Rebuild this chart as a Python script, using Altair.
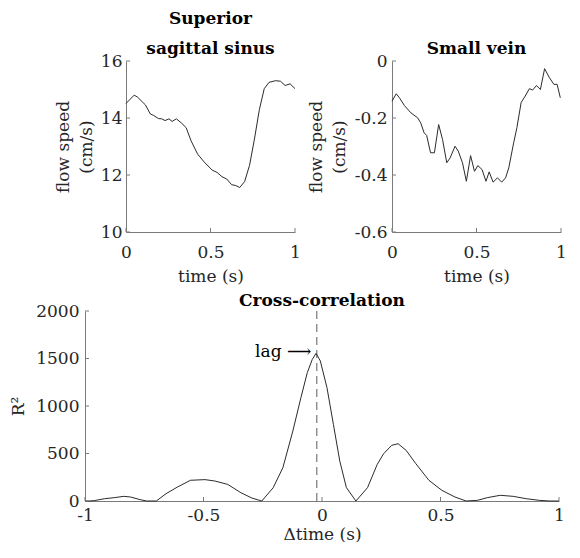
import altair as alt
import pandas as pd

# ---- data ----
sss_t = [0.0, 0.048, 0.067, 0.096, 0.115, 0.144, 0.163, 0.192, 0.212, 0.231, 0.254, 0.273,
         0.298, 0.327, 0.356, 0.385, 0.423, 0.462, 0.51, 0.539, 0.568, 0.596, 0.625, 0.65,
         0.673, 0.702, 0.731, 0.76, 0.789, 0.818, 0.846, 0.885, 0.914, 0.942, 0.971, 1.0]
sss_v = [14.51, 14.80, 14.74, 14.57, 14.46, 14.14, 14.09, 13.98, 13.97, 13.91, 13.97, 13.88,
         13.97, 13.83, 13.66, 13.20, 12.74, 12.46, 12.17, 12.09, 11.94, 11.86, 11.66, 11.63,
         11.56, 11.77, 12.34, 13.26, 14.29, 15.03, 15.25, 15.31, 15.29, 15.14, 15.20, 15.03]

vein_t = [0.0, 0.025, 0.044, 0.073, 0.112, 0.151, 0.17, 0.19, 0.205, 0.228, 0.251, 0.276,
          0.299, 0.324, 0.344, 0.373, 0.392, 0.417, 0.44, 0.465, 0.488, 0.508, 0.533, 0.556,
          0.575, 0.598, 0.624, 0.649, 0.672, 0.691, 0.72, 0.739, 0.764, 0.788, 0.813, 0.832,
          0.855, 0.878, 0.903, 0.932, 0.958, 0.977, 0.996]
vein_v = [-0.141, -0.115, -0.129, -0.156, -0.182, -0.199, -0.217, -0.252, -0.261, -0.322,
          -0.322, -0.223, -0.275, -0.357, -0.340, -0.299, -0.316, -0.357, -0.422, -0.332,
          -0.387, -0.367, -0.381, -0.422, -0.389, -0.425, -0.410, -0.425, -0.410, -0.375,
          -0.287, -0.234, -0.146, -0.123, -0.097, -0.102, -0.086, -0.100, -0.027, -0.059,
          -0.082, -0.082, -0.129]

xc_t = [-1.0, -0.979, -0.959, -0.918, -0.877, -0.836, -0.808, -0.767, -0.740, -0.699,
        -0.658, -0.610, -0.555, -0.494, -0.453, -0.398, -0.342, -0.295, -0.254, -0.206,
        -0.165, -0.123, -0.089, -0.062, -0.041, -0.025, -0.007, 0.021, 0.048, 0.075,
        0.103, 0.143, 0.192, 0.233, 0.260, 0.294, 0.321, 0.355, 0.396, 0.451, 0.506,
        0.561, 0.608, 0.656, 0.697, 0.752, 0.807, 0.862, 0.917, 0.958, 1.0]
xc_r2 = [0, 0, 5, 24, 35, 49, 42, 14, 0, 0,
         77, 147, 218, 225, 211, 175, 87, 30, 0, 140,
         351, 737, 1088, 1351, 1491, 1554, 1474, 1193, 807, 421,
         140, 0, 140, 385, 498, 586, 603, 533, 393, 218, 112,
         42, 0, 7, 35, 60, 49, 24, 7, 0, 0]

lag_x = [-0.022]
lag_label = ["lag \u27f6"]
lag_label_x = [-0.045]
lag_label_y = [1565]

time_ticks = [0, 0.5, 1]
sss_ticks = [10, 12, 14, 16]
vein_ticks = [-0.6, -0.4, -0.2, 0]
dt_ticks = [-1, -0.5, 0, 0.5, 1]
r2_ticks = [0, 500, 1000, 1500, 2000]

FONT = "DejaVu Serif"
FS = 17
LINE = "#2b2b2b"
AX = "#7a7a7a"
TXT = "#262626"

TW, TH = 169, 171
BW, BH = 474, 190


def inner_ticks(xvals, yvals, xdom, ydom, h):
    xt = alt.Chart(pd.DataFrame({"v": xvals})).mark_rule(color=AX, strokeWidth=1).encode(
        x=alt.X("v:Q", scale=alt.Scale(domain=xdom, nice=False, zero=False)),
        y=alt.value(h), y2=alt.value(h - 4))
    yt = alt.Chart(pd.DataFrame({"v": yvals})).mark_rule(color=AX, strokeWidth=1).encode(
        y=alt.Y("v:Q", scale=alt.Scale(domain=ydom, nice=False, zero=False)),
        x=alt.value(0), x2=alt.value(4))
    return [xt, yt]


def panel(tvals, vvals, xdom, ydom, xvals, yvals, h, xtitle, ytitle,
          xlp, xtp, ylp, ytp):
    df = pd.DataFrame({"t": tvals, "v": vvals})
    line = alt.Chart(df).mark_line(color=LINE, strokeWidth=1).encode(
        x=alt.X("t:Q", scale=alt.Scale(domain=xdom, nice=False, zero=False),
                axis=alt.Axis(values=xvals, title=xtitle, labelExpr="datum.value + ''",
                              labelPadding=xlp, titlePadding=xtp)),
        y=alt.Y("v:Q", scale=alt.Scale(domain=ydom, nice=False, zero=False),
                axis=alt.Axis(values=yvals, title=ytitle, labelExpr="datum.value + ''",
                              labelPadding=ylp, titlePadding=ytp, titleLineHeight=23)),
    )
    return line, inner_ticks(xvals, yvals, xdom, ydom, h)


l1, t1 = panel(sss_t, sss_v, [0, 1], [10, 16], time_ticks, sss_ticks, TH,
               "time (s)", ["flow speed", "(cm/s)"], 12, 8, 4, 5)
left = alt.layer(l1, *t1).properties(
    width=TW, height=TH,
    title=alt.TitleParams(["Superior", "sagittal sinus"], lineHeight=30, offset=-6))

l2, t2 = panel(vein_t, vein_v, [0, 1], [-0.6, 0], time_ticks, vein_ticks, TH,
               "time (s)", ["flow speed", "(cm/s)"], 12, 8, 5, 6)
right = alt.layer(l2, *t2).properties(
    width=TW, height=TH,
    title=alt.TitleParams("Small vein", offset=-6))

# bottom panel
l3, t3 = panel(xc_t, xc_r2, [-1, 1], [0, 2000], dt_ticks, r2_ticks, BH,
               "\u0394time (s)", "R\u00b2", 6, 3, 6, 8)
dash = alt.Chart(pd.DataFrame({"x": lag_x})).mark_rule(
    color="#777777", strokeWidth=1.2, strokeDash=[8, 5]).encode(
    x=alt.X("x:Q", scale=alt.Scale(domain=[-1, 1], nice=False, zero=False)),
    y=alt.value(0), y2=alt.value(BH))
lagtxt = alt.Chart(pd.DataFrame({"x": lag_label_x, "y": lag_label_y, "s": lag_label})).mark_text(
    font=FONT, fontSize=FS, align="right", baseline="middle", color="#000000").encode(
    x=alt.X("x:Q", scale=alt.Scale(domain=[-1, 1], nice=False, zero=False)),
    y=alt.Y("y:Q", scale=alt.Scale(domain=[0, 2000], nice=False, zero=False)),
    text="s:N")
bottom = alt.layer(dash, l3, lagtxt, *t3).properties(
    width=BW, height=BH,
    title=alt.TitleParams("Cross-correlation", offset=-8))

spacer = alt.Chart(pd.DataFrame({"a": [0]})).mark_text(text="").encode(
    x=alt.value(0), y=alt.value(0)).properties(width=1, height=1)

top_pair = alt.hconcat(left, right, spacing=97, bounds="flush")
top_row = alt.hconcat(spacer, top_pair, spacing=40, bounds="flush")

chart = alt.vconcat(top_row, bottom, spacing=8).properties(
    padding={"left": 1, "top": 2, "right": 0, "bottom": 0}
).configure_view(stroke=None).configure_axis(
    grid=False, ticks=False, domainColor=AX, domainWidth=1,
    labelFont=FONT, labelFontSize=FS, labelColor=TXT, labelFlush=False, labelOverlap=False,
    titleFont=FONT, titleFontSize=FS, titleFontWeight="normal", titleColor=TXT,
).configure_title(
    font=FONT, fontSize=FS, fontWeight="bold", color="#000000", anchor="middle"
)

chart.save("out.html", embed_options={"renderer": "svg", "actions": False})
